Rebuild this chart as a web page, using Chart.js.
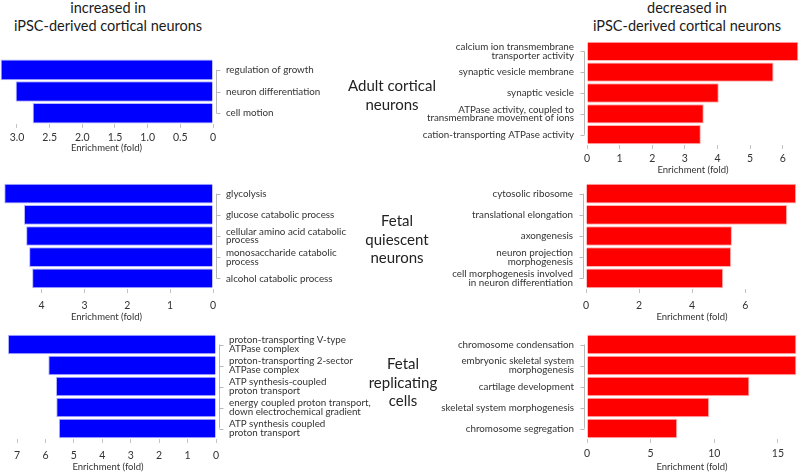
<!DOCTYPE html>
<html>
<head>
<meta charset="utf-8">
<script src="https://cdn.jsdelivr.net/npm/chart.js@4.4.1/dist/chart.umd.min.js"></script>
<style>
  body { margin: 0; background: #fff; }
  #page { position: relative; width: 800px; height: 473px; overflow: hidden; font-family: Lato, "Open Sans", sans-serif; color: #222; }
  canvas { position: absolute; }
  .head, .mid { position: absolute; text-align: center; font-size: 15px; line-height: 18px; white-space: nowrap; }
  .head { font-size: 14.5px; color: #1a1a1a; }
  .mid { line-height: 18.5px; z-index: 2; }
</style>
</head>
<body>
<div id="page">
  <div class="head" style="left:8px; top:-1px; width:200px;">increased in<br>iPSC-derived cortical neurons</div>
  <div class="head" style="left:587px; top:-1px; width:200px;">decreased in<br>iPSC-derived cortical neurons</div>
  <div class="mid" style="left:342px; top:76px; width:100px;">Adult cortical<br>neurons</div>
  <div class="mid" style="left:347px; top:211px; width:100px;">Fetal<br>quiescent<br>neurons</div>
  <div class="mid" style="left:353px; top:354px; width:100px;">Fetal<br>replicating<br>cells</div>

  <canvas id="p1" width="385" height="105" style="left:0px; top:49px;"></canvas>
  <canvas id="p2" width="389" height="145" style="left:410px; top:31px;"></canvas>
  <canvas id="p3" width="385" height="150" style="left:0px; top:173px;"></canvas>
  <canvas id="p4" width="388" height="150" style="left:410px; top:173px;"></canvas>
  <canvas id="p5" width="388" height="149" style="left:0px; top:324px;"></canvas>
  <canvas id="p6" width="387" height="149" style="left:410px; top:324px;"></canvas>
</div>
<script>
// GO terms and fold enrichment, top to bottom
const adultUp = ['regulation of growth', 'neuron differentiation', 'cell motion'];
const adultUpFold = [3.25, 3.02, 2.76];
const adultDown = [['calcium ion transmembrane', 'transporter activity'], 'synaptic vesicle membrane', 'synaptic vesicle',
    ['ATPase activity, coupled to', 'transmembrane movement of ions'], 'cation-transporting ATPase activity'];
const adultDownFold = [6.48, 5.72, 4.04, 3.58, 3.49];

const quiescentUp = ['glycolysis', 'glucose catabolic process', ['cellular amino acid catabolic', 'process'],
    ['monosaccharide catabolic', 'process'], 'alcohol catabolic process'];
const quiescentUpFold = [4.87, 4.41, 4.36, 4.29, 4.22];
const quiescentDown = ['cytosolic ribosome', 'translational elongation', 'axongenesis',
    ['neuron projection', 'morphogenesis'], ['cell morphogenesis involved', 'in neuron differentiation']];
const quiescentDownFold = [7.92, 7.58, 5.5, 5.47, 5.17];

const replicatingUp = [['proton-transporting V-type', 'ATPase complex'], ['proton-transporting 2-sector', 'ATPase complex'],
    ['ATP synthesis-coupled', 'proton transport'], ['energy coupled proton transport,', 'down electrochemical gradient'],
    ['ATP synthesis coupled', 'proton transport']];
const replicatingUpFold = [7.32, 5.9, 5.63, 5.62, 5.53];
const replicatingDown = ['chromosome condensation', ['embryonic skeletal system', 'morphogenesis'], 'cartilage development',
    'skeletal system morphogenesis', 'chromosome segregation'];
const replicatingDownFold = [16.45, 16.45, 12.76, 9.6, 7.09];

// x axis ranges and tick steps, panels p1..p6
const axisMax = [3.26, 6.5, 4.97, 7.99, 7.6, 16.5];
const axisStep = [0.5, 1, 1, 2, 1, 5];
const axisTitle = 'Enrichment (fold)';

// category axis drawn only between first and last term, like the original
const termAxis = {
    id: 'termAxis',
    afterDraw(chart) {
        const s = chart.scales.y;
        const n = s.ticks.length;
        const right = s.position === 'right';
        const x = right ? s.left + 3 : s.right - 3;
        const dir = right ? 1 : -1;
        const ctx = chart.ctx;
        ctx.save();
        ctx.strokeStyle = '#b8b8b8';
        ctx.lineWidth = 1;
        ctx.beginPath();
        ctx.moveTo(x + 0.5, s.getPixelForTick(0));
        ctx.lineTo(x + 0.5, s.getPixelForTick(n - 1));
        for (let i = 0; i < n; i++) {
            const y = Math.round(s.getPixelForTick(i)) + 0.5;
            ctx.moveTo(x + 0.5, y);
            ctx.lineTo(x + 0.5 + dir * 4, y);
        }
        ctx.stroke();
        ctx.restore();
    }
};

function makePanel(id, idx, labels, values, up, yWidth, barPct, xHeight, tickPad) {
    const fill = up ? '#0000ff' : '#ff0000';
    const edge = up ? '#b4b4ff' : '#ffb0b0';
    return new Chart(document.getElementById(id), {
        type: 'bar',
        data: {
            labels: labels,
            datasets: [{
                data: values,
                backgroundColor: fill,
                borderColor: edge,
                borderWidth: 1,
                barPercentage: barPct,
                categoryPercentage: 1
            }]
        },
        options: {
            indexAxis: 'y',
            responsive: false,
            animation: false,
            devicePixelRatio: 1,
            layout: { padding: { top: 10, left: 0, right: 0, bottom: 0 } },
            plugins: { legend: { display: false }, tooltip: { enabled: false } },
            scales: {
                x: {
                    type: 'linear',
                    min: 0,
                    max: axisMax[idx],
                    reverse: up,
                    afterFit: (scale) => {
                        scale.height = xHeight;
                        scale.paddingLeft = 0;
                        scale.paddingRight = 0;
                    },
                    border: { display: false },
                    grid: { drawOnChartArea: false, drawTicks: true, tickLength: 4, color: '#c4c4c4' },
                    ticks: {
                        stepSize: axisStep[idx],
                        includeBounds: false,
                        maxRotation: 0,
                        padding: tickPad,
                        color: '#333',
                        font: { family: 'Lato', size: 10.5 },
                        callback: (v) => (axisStep[idx] < 1 && v !== 0) ? v.toFixed(1) : String(v)
                    },
                    title: {
                        display: true,
                        text: axisTitle,
                        padding: 0,
                        color: '#333',
                        font: { family: 'Lato', size: 9.5 }
                    }
                },
                y: {
                    position: up ? 'right' : 'left',
                    afterFit: (scale) => {
                        scale.width = yWidth;
                        scale.paddingTop = 0;
                        scale.paddingBottom = 0;
                    },
                    border: { display: false },
                    grid: { display: false, drawTicks: false },
                    ticks: {
                        autoSkip: false,
                        padding: 13,
                        color: '#333',
                        font: { family: 'Lato', size: 9.8, lineHeight: 0.88 }
                    }
                }
            }
        },
        plugins: [termAxis]
    });
}

makePanel('p1', 0, adultUp, adultUpFold, true, 172, 0.95, 30, 3);
makePanel('p2', 1, adultDown, adultDownFold, false, 177, 0.93, 31, 3);
makePanel('p3', 2, quiescentUp, quiescentUpFold, true, 172, 0.93, 34, 6);
makePanel('p4', 3, quiescentDown, quiescentDownFold, false, 176, 0.93, 34, 6);
makePanel('p5', 4, replicatingUp, replicatingUpFold, true, 172, 0.93, 34, 6);
makePanel('p6', 5, replicatingDown, replicatingDownFold, false, 177, 0.93, 34, 4);
</script>
</body>
</html>
